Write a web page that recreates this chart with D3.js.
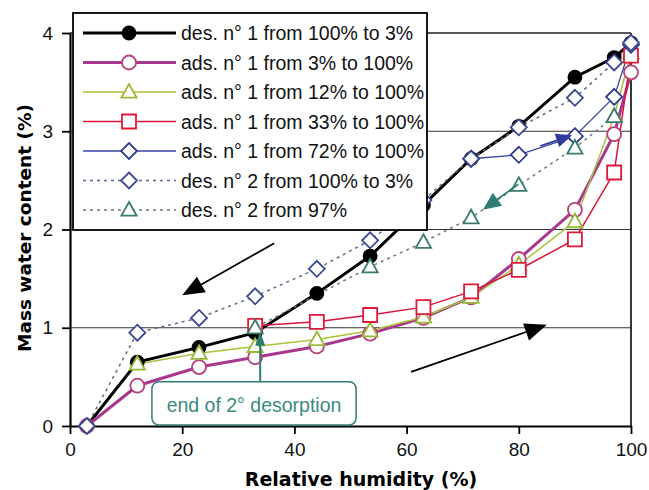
<!DOCTYPE html>
<html>
<head>
<meta charset="utf-8">
<script src="https://cdn.jsdelivr.net/npm/d3@7"></script>
<style>
body { margin: 0; background: #fff; }
text { font-family: "Liberation Sans", Arial, sans-serif; }
</style>
</head>
<body>
<svg id="chart" width="649" height="490"></svg>
<script>
var width = 649, height = 490

// relative humidity steps (%)
var rhAll = [3, 12, 23, 33, 44, 53.5, 63, 71.5, 80, 90, 97, 100]

var des1 = [0, 0.65, 0.8, 0.95, 1.35, 1.73, 2.25, 2.72, 3.05, 3.55, 3.75, 3.9]
var ads3 = [0, 0.41, 0.6, 0.7, 0.81, 0.94, 1.1, 1.31, 1.7, 2.2, 2.97, 3.6]
var rh12 = [12, 23, 33, 44, 53.5, 63, 71.5, 80, 90, 97, 100]
var ads12 = [0.63, 0.74, 0.81, 0.88, 0.97, 1.11, 1.31, 1.64, 2.08, 3.15, 3.8]
var rh33 = [33, 44, 53.5, 63, 71.5, 80, 90, 97, 100]
var ads33 = [1.02, 1.06, 1.13, 1.21, 1.37, 1.59, 1.9, 2.58, 3.77]
var rh72 = [71.5, 80, 90, 97, 100]
var ads72 = [2.72, 2.76, 2.95, 3.35, 3.88]
var rhDes2 = [100, 97, 90, 80, 71.5, 63, 53.5, 44, 33, 23, 12, 3]
var des2 = [3.9, 3.7, 3.34, 3.04, 2.72, 2.3, 1.89, 1.6, 1.32, 1.1, 0.95, 0]
var rhDes97 = [97, 90, 80, 71.5, 63, 53.5, 33]
var des97 = [3.15, 2.83, 2.45, 2.12, 1.87, 1.62, 1.0]

var xTicks = [0, 20, 40, 60, 80, 100]
var yTicks = [0, 1, 2, 3, 4]

var series = [
  {label: "des. n\u00b0 1 from 100% to 3%", x: rhAll, y: des1, color: "#000", lw: 3, dash: null, shape: "circle", stroke: "#000", fill: "#000", size: 6.5},
  {label: "ads. n\u00b0 1 from 3% to 100%", x: rhAll, y: ads3, color: "#a8388e", lw: 3, dash: null, shape: "circle", stroke: "#b8407c", fill: "#fff", size: 7},
  {label: "ads. n\u00b0 1 from 12% to 100%", x: rh12, y: ads12, color: "#a6c43a", lw: 1.5, dash: null, shape: "triangle", stroke: "#98b838", fill: "#fff", size: 8},
  {label: "ads. n\u00b0 1 from 33% to 100%", x: rh33, y: ads33, color: "#d8143c", lw: 1.5, dash: null, shape: "square", stroke: "#e01838", fill: "#fff", size: 7},
  {label: "ads. n\u00b0 1 from 72% to 100%", x: rh72, y: ads72, color: "#3a44a8", lw: 1.3, dash: null, shape: "diamond", stroke: "#2e3c8c", fill: "#fff", size: 8},
  {label: "des. n\u00b0 2 from 100% to 3%", x: rhDes2, y: des2, color: "#5a6a88", lw: 1.5, dash: "3,4", shape: "diamond", stroke: "#3c4890", fill: "#fff", size: 8},
  {label: "des. n\u00b0 2 from 97%", x: rhDes97, y: des97, color: "#6a7a80", lw: 1.5, dash: "3,4", shape: "triangle", stroke: "#3a7a6e", fill: "#fff", size: 8}
]

var margin = {left: 70, right: 18, top: 33, bottom: 64}
var x = d3.scaleLinear().domain([0, 100]).range([margin.left, width - margin.right])
var y = d3.scaleLinear().domain([0, 4]).range([height - margin.bottom, margin.top])

var svg = d3.select('#chart')

function markerPath(shape, s) {
  if (shape == "circle") return d3.arc()({innerRadius: 0, outerRadius: s, startAngle: 0, endAngle: 2 * Math.PI})
  if (shape == "square") return "M" + (-s) + "," + (-s) + "H" + s + "V" + s + "H" + (-s) + "Z"
  if (shape == "diamond") return "M0," + (-s) + "L" + s + ",0L0," + s + "L" + (-s) + ",0Z"
  if (shape == "triangle") return "M0," + (-s) + "L" + (s * 0.95) + "," + (s * 0.7) + "L" + (-s * 0.95) + "," + (s * 0.7) + "Z"
}

// gridlines
svg.append("g").selectAll("line")
  .data([1, 2, 3]).enter().append("line")
  .attr("x1", x(0)).attr("x2", x(100))
  .attr("y1", function(d) { return y(d) }).attr("y2", function(d) { return y(d) })
  .attr("stroke", "#333").attr("stroke-width", 1.2)

// frame top / right
svg.append("line").attr("x1", x(0)).attr("x2", x(100)).attr("y1", y(4)).attr("y2", y(4))
  .attr("stroke", "#222").attr("stroke-width", 1.5)
svg.append("line").attr("x1", x(100)).attr("x2", x(100)).attr("y1", y(4)).attr("y2", y(0))
  .attr("stroke", "#222").attr("stroke-width", 1.8)

// axes
var xAxis = svg.append("g").attr("transform", "translate(0," + y(0) + ")")
  .call(d3.axisBottom(x).tickValues(xTicks).tickFormat(d3.format("d")).tickSize(8).tickPadding(9).tickSizeOuter(0))
var yAxis = svg.append("g").attr("transform", "translate(" + x(0) + ",0)")
  .call(d3.axisLeft(y).tickValues(yTicks).tickFormat(d3.format("d")).tickSize(8).tickPadding(9).tickSizeOuter(0))
;[xAxis, yAxis].forEach(function(a) {
  a.select(".domain").attr("stroke", "#000").attr("stroke-width", 2.2)
  a.selectAll(".tick line").attr("stroke", "#000").attr("stroke-width", 1.8)
  a.selectAll(".tick text").attr("font-size", 19).attr("fill", "#111")
    .style("font-family", '"Liberation Sans", Arial, sans-serif')
})

// callout box "end of 2° desorption" (drawn below the data)
var teal = "#2f7d74"
svg.append("rect")
  .attr("x", x(14.6)).attr("y", y(0.45))
  .attr("width", x(51) - x(14.6)).attr("height", y(0) - y(0.45) - 1)
  .attr("rx", 7).attr("fill", "#fff").attr("stroke", teal).attr("stroke-width", 1.5)
svg.append("text").attr("x", (x(14.6) + x(51)) / 2).attr("y", y(0.21) + 7)
  .attr("text-anchor", "middle").attr("font-size", 19.5).attr("fill", "#3a8a80")
  .text("end of 2\u00b0 desorption")

// lines
var line = d3.line().x(function(d) { return x(d[0]) }).y(function(d) { return y(d[1]) })
series.forEach(function(s) {
  var pts = s.x.map(function(v, i) { return [v, s.y[i]] })
  svg.append("path").datum(pts)
    .attr("d", line).attr("fill", "none")
    .attr("stroke", s.color).attr("stroke-width", s.lw)
    .attr("stroke-dasharray", s.dash)
  s.pts = pts
})
series.forEach(function(s) {
  svg.append("g").selectAll("path").data(s.pts).enter().append("path")
    .attr("transform", function(d) { return "translate(" + x(d[0]) + "," + y(d[1]) + ")" })
    .attr("d", markerPath(s.shape, s.size))
    .attr("fill", s.fill).attr("stroke", s.stroke).attr("stroke-width", 1.8)
})

// arrows
function arrow(x0, y0, x1, y1, color, lw, headLen, headW) {
  var px0 = x(x0), py0 = y(y0), px1 = x(x1), py1 = y(y1)
  var a = Math.atan2(py1 - py0, px1 - px0)
  var bx = px1 - headLen * Math.cos(a), by = py1 - headLen * Math.sin(a)
  svg.append("line").attr("x1", px0).attr("y1", py0).attr("x2", bx).attr("y2", by)
    .attr("stroke", color).attr("stroke-width", lw)
  var nx = -Math.sin(a) * headW, ny = Math.cos(a) * headW
  svg.append("path")
    .attr("d", "M" + px1 + "," + py1 + "L" + (bx + nx) + "," + (by + ny) + "L" + (bx - nx) + "," + (by - ny) + "Z")
    .attr("fill", color)
}
arrow(36.4, 1.86, 20, 1.33, "#000", 1.8, 22, 9)
arrow(60.8, 0.55, 85, 1.03, "#000", 1.8, 22, 9)
arrow(83.8, 2.85, 89.5, 2.96, "#2e3c9c", 1.8, 16, 7)
arrow(79.9, 2.46, 73.6, 2.2, teal, 1.8, 18, 8)
arrow(33.9, 0.45, 33.9, 0.96, teal, 2, 14, 5)

// legend
var lg = svg.append("g")
lg.append("rect").attr("x", 73).attr("y", 13).attr("width", 354).attr("height", 217)
  .attr("fill", "#fff").attr("stroke", "#000").attr("stroke-width", 1.8)
series.forEach(function(s, i) {
  var ly = 33 + i * 29.5
  lg.append("line").attr("x1", 83).attr("x2", 176).attr("y1", ly).attr("y2", ly)
    .attr("stroke", s.color).attr("stroke-width", s.lw).attr("stroke-dasharray", s.dash)
  lg.append("path").attr("transform", "translate(129," + ly + ")")
    .attr("d", markerPath(s.shape, s.size))
    .attr("fill", s.fill).attr("stroke", s.stroke).attr("stroke-width", 1.8)
  lg.append("text").attr("x", 181).attr("y", ly + 7)
    .attr("font-size", 19.5).attr("fill", "#111")
    .text(s.label)
})

// axis titles
svg.append("text").attr("x", 361).attr("y", 486).attr("text-anchor", "middle")
  .attr("font-size", 19).attr("font-weight", "bold")
  .style("font-family", '"DejaVu Sans", sans-serif')
  .text("Relative humidity (%)")
svg.append("text").attr("transform", "translate(31," + 228 + ") rotate(-90)")
  .attr("text-anchor", "middle").attr("font-size", 18.5).attr("font-weight", "bold")
  .style("font-family", '"DejaVu Sans", sans-serif')
  .text("Mass water content (%)")
</script>
</body>
</html>
